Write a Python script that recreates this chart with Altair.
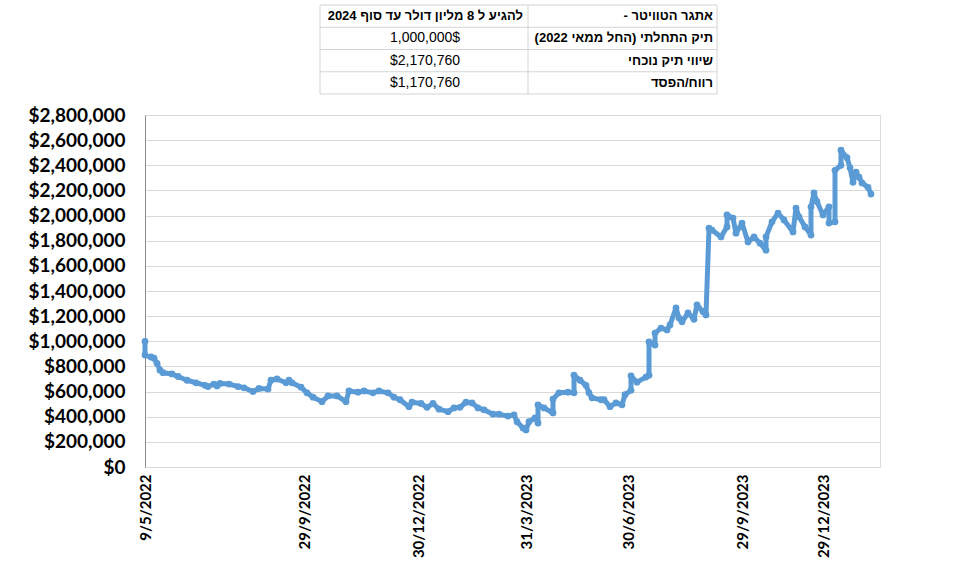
import altair as alt
import pandas as pd

# ---------------- data ----------------
day_index = [
    0, 0, 2, 3, 4, 5, 6, 9, 11, 14, 17, 20, 21, 23, 24, 25, 28, 31, 33, 36,
    38, 41, 42, 44, 47, 48, 49, 52, 54, 56, 59, 61, 64, 67, 68, 71, 73, 76, 78, 81,
    83, 85, 88, 89, 92, 94, 96, 98, 101, 103, 105, 107, 109, 111, 113, 116, 118, 121, 123, 124,
    126, 127, 128, 130, 131, 131, 133, 136, 136, 138, 141, 143, 143, 145, 147, 148, 149, 152, 153, 155,
    157, 159, 160, 162, 162, 164, 167, 168, 168, 170, 170, 172, 174, 175, 177, 178, 179, 181, 183, 184,
    186, 187, 188, 189, 192, 194, 194, 196, 197, 199, 201, 203, 205, 207, 207, 209, 211, 213, 216, 217,
    218, 220, 222, 222, 223, 224, 226, 228, 228, 230, 230, 232, 232, 234, 235, 236, 237, 238, 239, 241,
    242,
]
portfolio_value = [
    1000000, 890000, 875000, 865000, 825000, 770000, 750000, 740000, 720000, 690000,
    670000, 650000, 640000, 660000, 645000, 665000, 660000, 640000, 630000, 600000,
    625000, 620000, 690000, 700000, 670000, 690000, 670000, 635000, 590000, 555000,
    520000, 565000, 565000, 520000, 605000, 595000, 605000, 590000, 605000, 590000,
    555000, 535000, 480000, 515000, 505000, 475000, 505000, 460000, 440000, 470000,
    475000, 515000, 510000, 470000, 455000, 420000, 420000, 405000, 415000, 360000,
    310000, 295000, 360000, 390000, 350000, 495000, 470000, 430000, 540000, 590000,
    595000, 590000, 730000, 690000, 650000, 590000, 550000, 535000, 535000, 480000,
    510000, 495000, 575000, 610000, 725000, 675000, 715000, 730000, 995000, 970000,
    1065000, 1105000, 1090000, 1130000, 1265000, 1185000, 1155000, 1225000, 1175000, 1290000,
    1235000, 1210000, 1900000, 1885000, 1830000, 1910000, 2005000, 1980000, 1860000, 1940000,
    1790000, 1830000, 1780000, 1725000, 1830000, 1950000, 2020000, 1965000, 1870000, 2060000,
    1990000, 1910000, 1845000, 2070000, 2180000, 2110000, 2005000, 2070000, 1940000, 1950000,
    2360000, 2400000, 2520000, 2460000, 2380000, 2265000, 2345000, 2305000, 2260000, 2225000,
    2170760,
]

tick_index = [0, 53, 91, 127, 161, 199, 226]
tick_labels = ["9/5/2022", "29/9/2022", "30/12/2022", "31/3/2023",
               "30/6/2023", "29/9/2023", "29/12/2023"]

y_ticks = [0, 200000, 400000, 600000, 800000, 1000000, 1200000, 1400000,
           1600000, 1800000, 2000000, 2200000, 2400000, 2600000, 2800000]

table_labels = ["- אתגר הטוויטר", "תיק התחלתי (החל ממאי 2022)", "שיווי תיק נוכחי", "רווח/הפסד"]
table_values = ["להגיע ל 8 מליון דולר עד סוף  2024", "1,000,000$", "$2,170,760", "$1,170,760"]

# ---------------- layout constants ----------------
PLOT_W, PLOT_H = 735, 352
PAD_L, PAD_T = 145, 115
BLUE = "#5B9BD5"
LABEL_FONT = "Lato"
TABLE_FONT = "Liberation Sans"

series = pd.DataFrame({
    "seq": list(range(len(day_index))),
    "idx": day_index,
    "value": portfolio_value,
})

label_map = "{" + ",".join(f"'{i}':'{t}'" for i, t in zip(tick_index, tick_labels)) + "}"

x_enc = alt.X(
    "idx:Q",
    scale=alt.Scale(domain=[0, 245], nice=False, zero=False),
    axis=alt.Axis(
        values=tick_index, labelExpr=f"{label_map}[datum.value]", title=None,
        grid=False, ticks=False, domain=False, labelAngle=-90, labelAlign="right",
        labelBaseline="middle", labelPadding=7, labelFont=LABEL_FONT, labelFontSize=15,
        labelFontWeight="bold", labelColor="#000000", labelOverlap=False,
    ),
)
y_enc = alt.Y(
    "value:Q",
    scale=alt.Scale(domain=[0, 2800000], nice=False),
    axis=alt.Axis(
        values=y_ticks, format="$,.0f", title=None, ticks=False,
        domain=True, domainColor="#8c8c8c", domainWidth=1,
        grid=True, gridColor="#d9d9d9", gridWidth=1,
        labelPadding=20, labelFont=LABEL_FONT, labelFontSize=19,
        labelFontWeight="bold", labelColor="#000000",
    ),
)

line = alt.Chart(series).mark_line(
    color=BLUE, strokeWidth=5, strokeJoin="round", strokeCap="round",
    point=alt.OverlayMarkDef(filled=True, color=BLUE, size=46, opacity=1),
).encode(x=x_enc, y=y_enc, order=alt.Order("seq:Q"))

# ---------------- table (annotation above the plot) ----------------
tbl_left, tbl_mid, tbl_right = 320 - PAD_L, 528 - PAD_L, 717 - PAD_L
row_edges = [5 - PAD_T + i * 22.25 for i in range(5)]
row_centers = [(row_edges[i] + row_edges[i + 1]) / 2 for i in range(4)]

hlines = pd.DataFrame({"x": [tbl_left] * 5, "x2": [tbl_right] * 5,
                       "y": row_edges, "y2": row_edges})
vlines = pd.DataFrame({"x": [tbl_left, tbl_mid, tbl_right], "x2": [tbl_left, tbl_mid, tbl_right],
                       "y": [row_edges[0]] * 3, "y2": [row_edges[-1]] * 3})
grid_lines = pd.concat([hlines, vlines], ignore_index=True)

rules = alt.Chart(grid_lines).mark_rule(color="#d4d4d4", strokeWidth=1).encode(
    x=alt.X("x:Q", scale=None, axis=None),
    x2="x2:Q",
    y=alt.Y("y:Q", scale=None, axis=None),
    y2="y2:Q",
)

lab_df = pd.DataFrame({"t": table_labels, "px": [713 - PAD_L] * 4, "py": row_centers})
head_df = pd.DataFrame({"t": table_values[:1], "px": [523 - PAD_L], "py": row_centers[:1]})
val_df = pd.DataFrame({"t": table_values[1:], "px": [425 - PAD_L] * 3, "py": row_centers[1:]})

def tbl_text(df, align, weight, size):
    return alt.Chart(df).mark_text(
        align=align, baseline="middle", font=TABLE_FONT, fontSize=size,
        fontWeight=weight, color="#000000",
    ).encode(
        x=alt.X("px:Q", scale=None, axis=None),
        y=alt.Y("py:Q", scale=None, axis=None),
        text="t:N",
    )

chart = alt.layer(
    line,
    rules,
    tbl_text(lab_df, "right", "bold", 13),
    tbl_text(head_df, "right", "bold", 13),
    tbl_text(val_df, "center", "normal", 14),
).resolve_scale(x="independent", y="independent").properties(
    width=PLOT_W, height=PLOT_H,
    autosize=alt.AutoSizeParams(type="none"),
    padding={"left": PAD_L, "top": PAD_T, "right": 962 - PAD_L - PLOT_W, "bottom": 561 - PAD_T - PLOT_H},
).configure_view(stroke=None).configure(background="white")

chart.save("out.html", embed_options={"renderer": "svg", "actions": False})
